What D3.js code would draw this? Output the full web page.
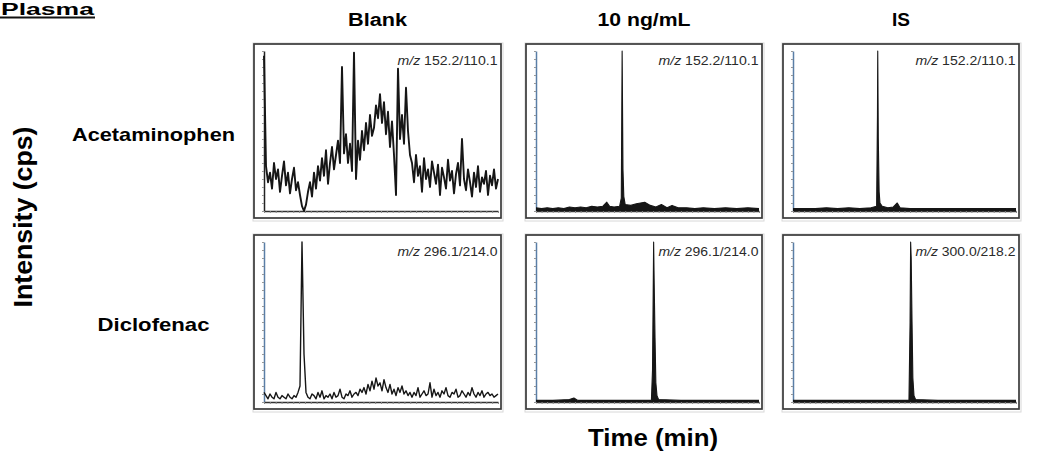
<!DOCTYPE html>
<html>
<head>
<meta charset="utf-8">
<script src="https://cdn.jsdelivr.net/npm/d3@7"></script>
<style>
  body { margin: 0; background: #fff; }
  text { font-family: "Liberation Sans", Arial, sans-serif; }
</style>
</head>
<body>
<div id="chart"></div>
<script>
// column / row headings
const columns = ["Blank", "10 ng/mL", "IS"];
const analytes = ["Acetaminophen", "Diclofenac"];
const transitions = [
  ["152.2/110.1", "152.2/110.1", "152.2/110.1"],
  ["296.1/214.0", "296.1/214.0", "300.0/218.2"]
];
const tMax = 4; // min, no ticks labelled in the original

// blank traces, evenly sampled over 0..tMax, intensity in % of panel full scale
const blankAcet = [97,
  28, 18, 24, 14, 30, 20, 26, 12, 22, 31, 16, 24, 11, 20, 27, 13, 18,
  10, 3, 0, 4, 12,
  18, 9, 24, 14, 28, 19, 33, 22, 38, 17, 30, 40, 26, 35, 44, 30,
  90, 36, 48, 30, 42, 25,
  99, 20, 44, 32, 50,
  38, 55, 42, 60, 47, 52, 66, 58, 73, 55, 68, 48, 62, 40, 56, 35,
  10, 89, 45, 60, 42, 77, 50, 35,
  30, 18, 35, 22, 28, 12, 33, 20, 26, 15, 31, 24, 17, 29, 10, 27, 21, 14, 32, 19, 25, 11,
  23, 30, 16, 45, 20, 13, 26, 18, 9, 24, 15, 28, 12, 21, 17, 25, 10, 22, 16, 26, 14, 20];

const blankDic = [6,
  4, 2, 5, 3, 2, 6, 3, 2, 4, 3, 2, 5, 3, 2, 4, 3, 6,
  10, 100, 30, 6,
  3, 2, 5, 4, 2, 6, 3, 7, 2, 4, 3, 5, 2, 6, 3, 4, 8, 3, 2, 5, 4, 7, 3, 5, 6, 4, 8,
  6, 9, 5, 11, 7, 13, 8, 15, 10, 12, 7, 14, 9, 6, 11, 5, 8, 4, 9, 6, 10, 5, 7, 4, 6,
  3, 6, 4, 9, 3, 5, 7, 4, 5, 12, 3, 8, 4, 6, 3, 7, 5, 9, 4, 3, 6, 5,
  8, 3, 4, 7, 5, 3, 6, 4, 9, 5, 3, 6, 4, 7, 3, 5, 6, 4, 5, 3, 4, 5];

// peak traces as [time (min), intensity %]
const acet10 = [[0, 2], [0.1, 1.5], [0.2, 2], [0.3, 1.5], [0.4, 2], [0.5, 1.5], [0.6, 2.5],
  [0.7, 2], [0.8, 2.5], [0.9, 2], [1.0, 3], [1.1, 2.5], [1.2, 3], [1.27, 5.5], [1.32, 3],
  [1.4, 2.5], [1.5, 3], [1.53, 8], [1.545, 100], [1.56, 26], [1.575, 9], [1.6, 4],
  [1.7, 3.5], [1.8, 4.5], [1.95, 5.5], [2.05, 3.5], [2.15, 2.5], [2.25, 4], [2.35, 2],
  [2.44, 3.5], [2.55, 2], [2.7, 2], [2.85, 1.5], [3.0, 2], [3.2, 1.5], [3.4, 2], [3.6, 1.5],
  [3.8, 2], [4.0, 1.5]];

const acetIS = [[0, 1.5], [0.2, 1.5], [0.4, 1.5], [0.6, 2], [0.8, 1.5], [1.0, 2], [1.2, 1.5],
  [1.4, 2], [1.5, 3], [1.515, 60], [1.52, 100], [1.53, 45], [1.545, 12], [1.56, 5],
  [1.6, 3], [1.7, 2], [1.8, 2.5], [1.87, 5], [1.92, 2], [2.1, 1.5], [2.4, 1.5], [2.8, 1.5],
  [3.2, 1.5], [3.6, 1.5], [4.0, 1.5]];

const dic10 = [[0, 1], [0.3, 1], [0.6, 1.5], [0.68, 2.5], [0.75, 1], [1.2, 1], [1.6, 1],
  [2.0, 1], [2.07, 1], [2.09, 20], [2.1, 60], [2.11, 100], [2.12, 74], [2.135, 40],
  [2.15, 12], [2.17, 4], [2.2, 1.5], [2.6, 1], [3.0, 1], [3.5, 1], [4.0, 1]];

const dicIS = [[0, 1], [0.5, 1], [1.0, 1], [1.5, 1], [2.0, 1], [2.08, 1], [2.1, 50],
  [2.11, 100], [2.12, 90], [2.135, 50], [2.15, 15], [2.17, 4], [2.2, 1.5], [2.6, 1],
  [3.0, 1], [3.5, 1], [4.0, 1]];

const traces = [[blankAcet, acet10, acetIS], [blankDic, dic10, dicIS]];

const width = 1049, height = 459;
const colX = [254, 526, 783], colW = [247, 236, 236];
const rowY = [44, 235], rowH = 174;

const svg = d3.select("#chart").append("svg")
  .attr("width", width).attr("height", height);

// figure title (cut by the top edge in the original scan; kept just inside here)
svg.append("text").attr("x", 1).attr("y", 15)
  .attr("font-size", 16).attr("font-weight", "bold")
  .attr("textLength", 93).attr("lengthAdjust", "spacingAndGlyphs")
  .text("Plasma");
svg.append("line").attr("x1", 0).attr("x2", 95).attr("y1", 17.5).attr("y2", 17.5)
  .attr("stroke", "#111").attr("stroke-width", 2);

const headW = [59, 93, 18];
columns.forEach((c, i) => {
  svg.append("text")
    .attr("x", colX[i] + colW[i] / 2).attr("y", 26)
    .attr("text-anchor", "middle")
    .attr("font-size", 18).attr("font-weight", "bold")
    .attr("textLength", headW[i]).attr("lengthAdjust", "spacingAndGlyphs")
    .text(c);
});

const rowLabelY = [141, 331], rowLabelW = [163, 112];
analytes.forEach((a, i) => {
  svg.append("text")
    .attr("x", 153.5).attr("y", rowLabelY[i])
    .attr("text-anchor", "middle")
    .attr("font-size", 18.5).attr("font-weight", "bold")
    .attr("textLength", rowLabelW[i]).attr("lengthAdjust", "spacingAndGlyphs")
    .text(a);
});

svg.append("text")
  .attr("transform", "translate(32,217) rotate(-90)")
  .attr("text-anchor", "middle")
  .attr("font-size", 25).attr("font-weight", "bold")
  .attr("textLength", 181).attr("lengthAdjust", "spacingAndGlyphs")
  .text("Intensity (cps)");

svg.append("text")
  .attr("x", 653).attr("y", 446)
  .attr("text-anchor", "middle")
  .attr("font-size", 24).attr("font-weight", "bold")
  .attr("textLength", 130).attr("lengthAdjust", "spacingAndGlyphs")
  .text("Time (min)");

traces.forEach((row, r) => {
  row.forEach((data, c) => {
    const x0 = colX[c], y0 = rowY[r], w = colW[c];
    const g = svg.append("g");

    const pts = Array.isArray(data[0]) ? data
      : data.map((v, i) => [i * tMax / (data.length - 1), v]);

    const x = d3.scaleLinear().domain([0, tMax]).range([x0 + 10, x0 + w - 3]);
    const y = d3.scaleLinear().domain([0, 100]).range([y0 + rowH - 7, y0 + 7]);

    const isBlankAcet = (r === 0 && c === 0);
    const axisCol = isBlankAcet ? "#222" : "#5a7ea6";

    // faint scan shadow + frame
    g.append("rect")
      .attr("x", x0 - 1).attr("y", y0 - 1).attr("width", w + 3).attr("height", rowH + 4)
      .attr("fill", "none").attr("stroke", "#d8d8d8").attr("stroke-width", 1);
    g.append("rect")
      .attr("x", x0).attr("y", y0).attr("width", w).attr("height", rowH)
      .attr("fill", "none").attr("stroke", "#3a3a3a").attr("stroke-width", 1.7);

    const ya = g.append("g")
      .attr("transform", `translate(${x0 + 10},0)`)
      .call(d3.axisLeft(y).ticks(20).tickSize(2).tickSizeOuter(0).tickFormat(""));
    ya.select(".domain").attr("stroke", axisCol).attr("stroke-width", 1.5);
    ya.selectAll(".tick line").attr("stroke", "#999");

    const xa = g.append("g")
      .attr("transform", `translate(0,${y0 + rowH - 7})`)
      .call(d3.axisBottom(x).ticks(30).tickSize(2).tickSizeOuter(0).tickFormat(""));
    xa.select(".domain").attr("stroke", "#333").attr("stroke-width", 1.4);
    xa.selectAll(".tick line").attr("stroke", "#888");

    if (c > 0) {
      g.append("path").datum(pts)
        .attr("fill", "#151515")
        .attr("d", d3.area().x(d => x(d[0])).y0(y(0)).y1(d => y(d[1])));
    }
    g.append("path").datum(pts)
      .attr("fill", "none")
      .attr("stroke", "#161616")
      .attr("stroke-width", isBlankAcet ? 1.9 : (r === 1 && c === 0 ? 1.4 : 1.1))
      .attr("stroke-linejoin", "round")
      .attr("d", d3.line().x(d => x(d[0])).y(d => y(d[1])));

    const lab = g.append("text")
      .attr("x", x0 + w - 3.5).attr("y", y0 + 21)
      .attr("text-anchor", "end")
      .attr("font-size", 12.5).attr("fill", "#2a2a2a")
      .attr("textLength", 100).attr("lengthAdjust", "spacingAndGlyphs");
    lab.append("tspan").attr("font-style", "italic").text("m/z");
    lab.append("tspan").text(" " + transitions[r][c]);
  });
});
</script>
</body>
</html>
